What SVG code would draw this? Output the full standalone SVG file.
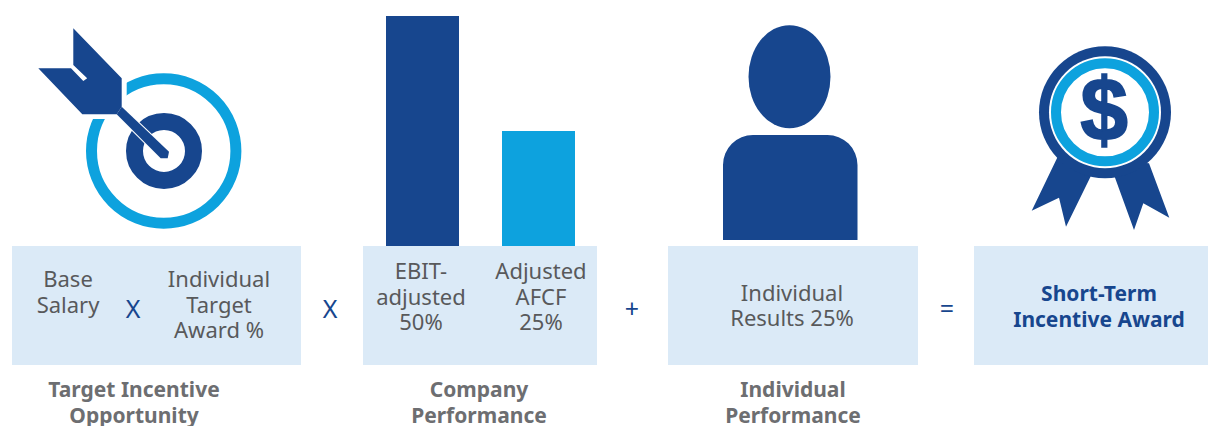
<svg xmlns="http://www.w3.org/2000/svg" width="1208" height="426" viewBox="0 0 1208 426">
<style>
.d{fill:#17468e}.c{fill:#0da2de}.p{fill:#dbeaf7}
text{font-family:"Noto Sans","Liberation Sans",sans-serif;text-anchor:middle}
.t{font-size:22px;fill:#58595b}
.h{font-size:21px;font-weight:700;fill:#6d6e71}
.o{font-size:25px;fill:#17468e}
.s{font-size:21px;font-weight:700;fill:#17468e}
</style>
<rect width="1208" height="426" fill="#fff"/>
<g id="target-icon">
<circle cx="163.7" cy="151" r="72.2" fill="none" stroke="#0da2de" stroke-width="11"/>
<path fill="#fff" d="M126.7 60V119H80V60Z"/>
<circle cx="164" cy="151" r="29.5" fill="none" stroke="#17468e" stroke-width="17"/>
<path class="d" stroke="#fff" stroke-width="2" paint-order="stroke" d="M121.7 106.7L169 151.7L167.7 158.3H160.7L116.7 114.3Z"/>
<path class="d" d="M73.3 28.3L121.7 78.3V106.7L116.7 114.3H82.3L38.3 68.3H71L83.3 81L87.2 78.3L73.3 65Z"/>
</g>
<g id="bars-icon">
<rect class="d" x="386" y="16" width="73" height="230"/>
<rect class="c" x="502" y="131" width="73" height="115"/>
</g>
<g id="person-icon">
<ellipse class="d" cx="789.5" cy="76.7" rx="41" ry="51.5"/>
<path class="d" d="M723 240V165A30 30 0 0 1 753 135H827A30 30 0 0 1 857.5 165V240Z"/>
</g>
<g id="award-icon">
<path class="d" d="M1057.7 156.7L1031.7 210.7L1059 197.7L1066 226.7L1091 175.7H1114.3L1134 230L1143.3 203.3L1169.3 217.7L1149 163.3Z"/>
<circle class="d" cx="1105" cy="112.3" r="66"/>
<circle cx="1105" cy="112.3" r="56" fill="#fff"/>
<circle cx="1105" cy="112.3" r="49" fill="none" stroke="#0da2de" stroke-width="10"/>
<text transform="translate(1104 140) scale(1.1 1.15)" style="font-family:'Liberation Sans',sans-serif;font-size:78px;font-weight:700;fill:#17468e;stroke:#17468e;stroke-width:1.5px">$</text>
</g>
<g id="target-box">
<rect class="p" x="12" y="246" width="289" height="119"/>
<text class="t" x="68" y="287">Base</text>
<text class="t" x="68" y="313">Salary</text>
<text class="t" x="219" y="287">Individual</text>
<text class="t" x="219" y="313">Target</text>
<text class="t" x="219" y="338">Award %</text>
<text class="o" x="133" y="318">X</text>
<text class="h" x="134" y="397">Target Incentive</text>
<text class="h" x="134" y="423">Opportunity</text>
</g>
<g id="company-box">
<rect class="p" x="363" y="246" width="234" height="119"/>
<text class="t" x="421" y="279">EBIT-</text>
<text class="t" x="421" y="305">adjusted</text>
<text class="t" x="421" y="330">50%</text>
<text class="t" x="541" y="279">Adjusted</text>
<text class="t" x="541" y="305">AFCF</text>
<text class="t" x="541" y="330">25%</text>
<text class="h" x="479" y="397">Company</text>
<text class="h" x="479" y="423">Performance</text>
</g>
<g id="individual-box">
<rect class="p" x="668" y="246" width="250" height="119"/>
<text class="t" x="792" y="301">Individual</text>
<text class="t" x="792" y="326">Results 25%</text>
<text class="h" x="793" y="397">Individual</text>
<text class="h" x="793" y="423">Performance</text>
</g>
<g id="award-box">
<rect class="p" x="974" y="246" width="234" height="119"/>
<text class="s" x="1099" y="301">Short-Term</text>
<text class="s" x="1099" y="327">Incentive Award</text>
</g>
<g id="connectors">
<text class="o" x="330" y="318">X</text>
<text class="o" x="632" y="318">+</text>
<text class="o" x="947" y="318">=</text>
</g>
</svg>
